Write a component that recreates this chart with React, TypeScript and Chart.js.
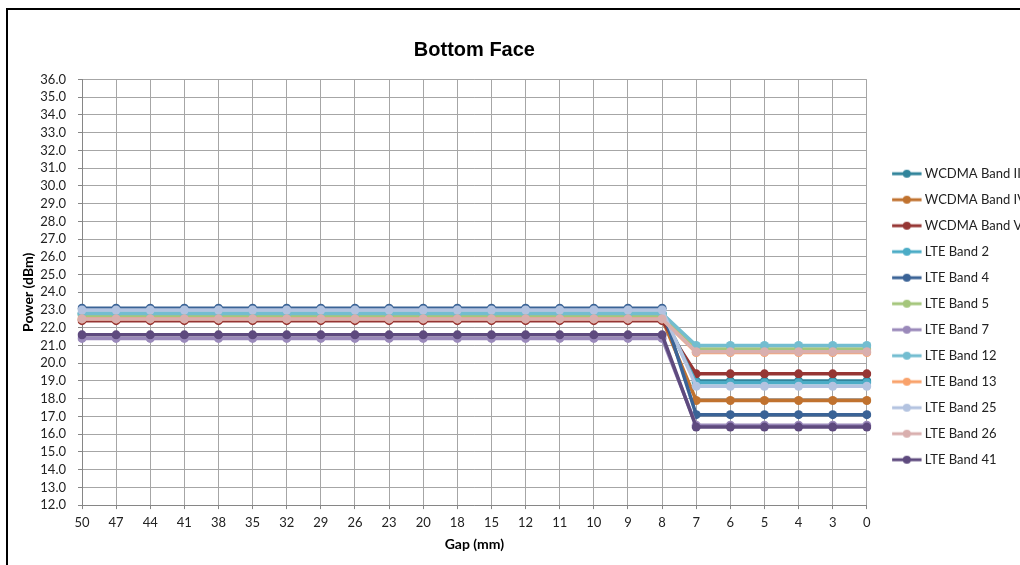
import React, { useEffect, useRef } from 'react';
import { Chart, registerables } from 'chart.js';

Chart.register(...registerables);

const gapLabels = ['50', '47', '44', '41', '38', '35', '32', '29', '26', '23', '20', '18', '15', '12', '11', '10', '9', '8', '7', '6', '5', '4', '3', '0'];

const wcdmaBand2 = [22.8, 22.8, 22.8, 22.8, 22.8, 22.8, 22.8, 22.8, 22.8, 22.8, 22.8, 22.8, 22.8, 22.8, 22.8, 22.8, 22.8, 22.8, 19.0, 19.0, 19.0, 19.0, 19.0, 19.0];
const wcdmaBand4 = [22.5, 22.5, 22.5, 22.5, 22.5, 22.5, 22.5, 22.5, 22.5, 22.5, 22.5, 22.5, 22.5, 22.5, 22.5, 22.5, 22.5, 22.5, 17.9, 17.9, 17.9, 17.9, 17.9, 17.9];
const wcdmaBand5 = [22.4, 22.4, 22.4, 22.4, 22.4, 22.4, 22.4, 22.4, 22.4, 22.4, 22.4, 22.4, 22.4, 22.4, 22.4, 22.4, 22.4, 22.4, 19.4, 19.4, 19.4, 19.4, 19.4, 19.4];
const lteBand2 = [22.8, 22.8, 22.8, 22.8, 22.8, 22.8, 22.8, 22.8, 22.8, 22.8, 22.8, 22.8, 22.8, 22.8, 22.8, 22.8, 22.8, 22.8, 18.9, 18.9, 18.9, 18.9, 18.9, 18.9];
const lteBand4 = [23.1, 23.1, 23.1, 23.1, 23.1, 23.1, 23.1, 23.1, 23.1, 23.1, 23.1, 23.1, 23.1, 23.1, 23.1, 23.1, 23.1, 23.1, 17.1, 17.1, 17.1, 17.1, 17.1, 17.1];
const lteBand5 = [22.7, 22.7, 22.7, 22.7, 22.7, 22.7, 22.7, 22.7, 22.7, 22.7, 22.7, 22.7, 22.7, 22.7, 22.7, 22.7, 22.7, 22.7, 20.8, 20.8, 20.8, 20.8, 20.8, 20.8];
const lteBand7 = [21.4, 21.4, 21.4, 21.4, 21.4, 21.4, 21.4, 21.4, 21.4, 21.4, 21.4, 21.4, 21.4, 21.4, 21.4, 21.4, 21.4, 21.4, 16.5, 16.5, 16.5, 16.5, 16.5, 16.5];
const lteBand12 = [22.8, 22.8, 22.8, 22.8, 22.8, 22.8, 22.8, 22.8, 22.8, 22.8, 22.8, 22.8, 22.8, 22.8, 22.8, 22.8, 22.8, 22.8, 21.0, 21.0, 21.0, 21.0, 21.0, 21.0];
const lteBand13 = [22.5, 22.5, 22.5, 22.5, 22.5, 22.5, 22.5, 22.5, 22.5, 22.5, 22.5, 22.5, 22.5, 22.5, 22.5, 22.5, 22.5, 22.5, 20.6, 20.6, 20.6, 20.6, 20.6, 20.6];
const lteBand25 = [23.0, 23.0, 23.0, 23.0, 23.0, 23.0, 23.0, 23.0, 23.0, 23.0, 23.0, 23.0, 23.0, 23.0, 23.0, 23.0, 23.0, 23.0, 18.7, 18.7, 18.7, 18.7, 18.7, 18.7];
const lteBand26 = [22.5, 22.5, 22.5, 22.5, 22.5, 22.5, 22.5, 22.5, 22.5, 22.5, 22.5, 22.5, 22.5, 22.5, 22.5, 22.5, 22.5, 22.5, 20.65, 20.65, 20.65, 20.65, 20.65, 20.65];
const lteBand41 = [21.6, 21.6, 21.6, 21.6, 21.6, 21.6, 21.6, 21.6, 21.6, 21.6, 21.6, 21.6, 21.6, 21.6, 21.6, 21.6, 21.6, 21.6, 16.4, 16.4, 16.4, 16.4, 16.4, 16.4];

const seriesNames = ['WCDMA Band II', 'WCDMA Band IV', 'WCDMA Band V', 'LTE Band 2', 'LTE Band 4', 'LTE Band 5', 'LTE Band 7', 'LTE Band 12', 'LTE Band 13', 'LTE Band 25', 'LTE Band 26', 'LTE Band 41'];
const seriesValues = [wcdmaBand2, wcdmaBand4, wcdmaBand5, lteBand2, lteBand4, lteBand5, lteBand7, lteBand12, lteBand13, lteBand25, lteBand26, lteBand41];
const seriesColors = ['#31849B', '#C0722F', '#963634', '#4BACC6', '#3A6396', '#A5C67C', '#9A89BA', '#73BDD0', '#F9A26B', '#B3C3E0', '#D9AFAE', '#5E4A7E'];

const yMin = 12;
const yMax = 36;

const FONT = 'Lato, "Noto Sans", sans-serif';

// legend swatch: a short line with a circle marker, drawn on the right part of a wider transparent image
function legendIcon(color: string): HTMLCanvasElement {
  const c = document.createElement('canvas');
  c.width = 46;
  c.height = 10;
  const ctx = c.getContext('2d')!;
  ctx.strokeStyle = color;
  ctx.lineWidth = 3;
  ctx.beginPath();
  ctx.moveTo(16, 5);
  ctx.lineTo(45.5, 5);
  ctx.stroke();
  ctx.fillStyle = color;
  ctx.beginPath();
  ctx.arc(30.75, 5, 4, 0, Math.PI * 2);
  ctx.fill();
  return c;
}

export default function App() {
  const canvasRef = useRef<HTMLCanvasElement | null>(null);

  useEffect(() => {
    if (!canvasRef.current) return;
    const n = seriesNames.length;
    const icons = seriesColors.map((c) => legendIcon(c));
    const datasets = seriesNames.map((name, i) => ({
      label: name,
      data: seriesValues[i],
      borderColor: seriesColors[i],
      backgroundColor: seriesColors[i],
      pointBackgroundColor: seriesColors[i],
      pointBorderColor: seriesColors[i],
      borderWidth: 3.5,
      pointRadius: 4.5,
      pointBorderWidth: 0,
      pointStyle: 'circle',
      tension: 0,
      order: n - i,
    }));

    const chart = new Chart(canvasRef.current, {
      type: 'line',
      data: { labels: gapLabels, datasets: datasets as any },
      options: {
        animation: false,
        responsive: false,
        maintainAspectRatio: false,
        layout: { padding: { left: 20, right: 0, top: 38.5, bottom: 12.5 } },
        plugins: {
          tooltip: { enabled: false },
          title: {
            display: true,
            text: 'Bottom Face',
            fullSize: false,
            color: '#000',
            font: { family: '"Liberation Sans", Arial, sans-serif', size: 20, weight: 'bold' },
            padding: { top: 0, bottom: 17 },
          },
          legend: {
            display: true,
            position: 'right',
            align: 'center',
            title: { display: true, text: ' ', font: { family: FONT, size: 12 }, padding: { top: 28, bottom: 0 } },
            labels: {
              usePointStyle: true,
              pointStyleWidth: 38.5,
              padding: 13,
              color: '#222',
              font: { family: FONT, size: 13 },
              sort: (a: any, b: any) => a.datasetIndex - b.datasetIndex,
              generateLabels: (ch: any) =>
                ch.data.datasets.map((d: any, i: number) => ({
                  text: d.label,
                  fillStyle: d.borderColor,
                  strokeStyle: d.borderColor,
                  lineWidth: 0,
                  pointStyle: icons[i],
                  hidden: false,
                  datasetIndex: i,
                  fontColor: '#222',
                })),
            },
          },
        },
        scales: {
          x: {
            type: 'category',
            offset: false,
            grid: { color: '#A6A6A6', lineWidth: 1, drawTicks: true, tickLength: 4, tickColor: '#868686' },
            border: { color: '#868686', width: 1 },
            ticks: {
              autoSkip: false,
              maxRotation: 0,
              color: '#222',
              padding: 5.5,
              font: { family: FONT, size: 13 },
            },
            title: {
              display: true,
              text: 'Gap (mm)',
              color: '#000',
              font: { family: FONT, size: 14, weight: 'bold' },
              padding: { top: 0, bottom: 0 },
            },
          },
          y: {
            min: yMin,
            max: yMax,
            afterFit: (scale: any) => {
              scale.width = 62;
            },
            grid: { color: '#A6A6A6', lineWidth: 1, drawTicks: true, tickLength: 4, tickColor: '#868686' },
            border: { color: '#868686', width: 1 },
            ticks: {
              stepSize: 1,
              autoSkip: false,
              color: '#222',
              padding: 12,
              font: { family: FONT, size: 13 },
              callback: (v: any) => Number(v).toFixed(1),
            },
            title: {
              display: true,
              text: 'Power (dBm)',
              color: '#000',
              font: { family: FONT, size: 14, weight: 'bold' },
              padding: { top: 0, bottom: 3 },
            },
          },
        },
      },
    });
    return () => chart.destroy();
  }, []);

  return (
    <div style={{ position: 'fixed', left: 0, top: 0, width: 1020, height: 565, overflow: 'hidden', background: '#fff' }}>
      <div style={{ position: 'absolute', left: 6, top: 8, width: 1100, height: 600, borderLeft: '2px solid #000', borderTop: '2px solid #000' }} />
      <canvas ref={canvasRef} width={1036} height={565} style={{ position: 'absolute', left: 0, top: 0, width: 1036, height: 565 }} />
    </div>
  );
}
